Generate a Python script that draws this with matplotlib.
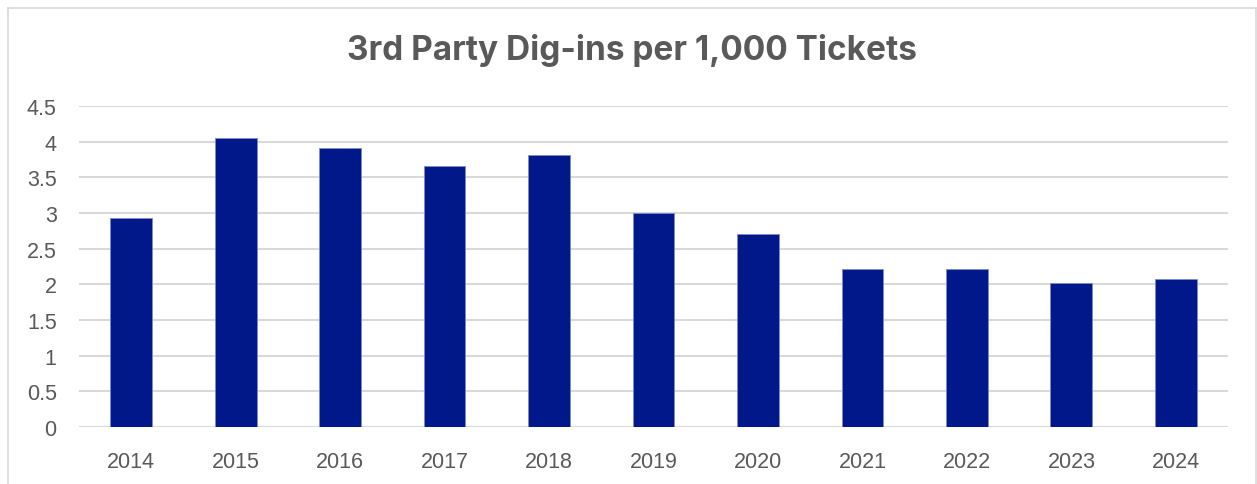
import matplotlib.pyplot as plt
from matplotlib.lines import Line2D

# dados
anos = ['2014', '2015', '2016', '2017', '2018', '2019', '2020', '2021', '2022', '2023', '2024']
valores = [2.93, 4.05, 3.91, 3.66, 3.81, 3.00, 2.71, 2.22, 2.21, 2.02, 2.08]
yticks = [0, 0.5, 1, 1.5, 2, 2.5, 3, 3.5, 4, 4.5]
ytick_labels = ['0', '0.5', '1', '1.5', '2', '2.5', '3', '3.5', '4', '4.5']

plt.rcParams['font.family'] = ['Liberation Sans', 'DejaVu Sans']
cinza = '#595959'

fig = plt.figure(figsize=(12.57, 4.85), dpi=100)
ax = fig.add_axes([0.0628, 0.1175, 0.9142, 0.6619])

x = range(len(anos))
ax.bar(x, valores, width=0.4, color='#00188A', edgecolor='#7f8bc8', linewidth=0.6, zorder=3)

ax.set_xlim(-0.5, len(anos) - 0.5)
ax.set_ylim(0, 4.5)
ax.set_xticks(list(x))
ax.set_xticklabels(anos)
ax.set_yticks(yticks)
ax.set_yticklabels(ytick_labels)
ax.tick_params(axis='x', length=0, pad=17, labelsize=15.5, labelcolor=cinza)
ax.tick_params(axis='y', length=0, pad=16, labelsize=15.5, labelcolor=cinza)

# grade horizontal
ax.grid(axis='y', color='#d9d9d9', linewidth=1.5, zorder=0)
for s in ax.spines.values():
    s.set_visible(False)

# titulo
fig.text(0.503, 0.895, '3rd Party Dig-ins per 1,000 Tickets', ha='center', va='center',
         fontsize=24, fontweight='bold', color=cinza, family=['Inter', 'DejaVu Sans'])

# moldura do gráfico (sem a borda de baixo)
W, H = 1257, 485
xl, xr, yt = 7.5 / W, 1255.5 / W, 1 - 8.5 / H
borda = dict(color='#d9d9d9', linewidth=1.2, transform=fig.transFigure)
fig.add_artist(Line2D([xl, xl], [0, yt], **borda))
fig.add_artist(Line2D([xl, xr], [yt, yt], **borda))
fig.add_artist(Line2D([xr, xr], [0, yt], **borda))

plt.savefig('out.png', dpi=100)
